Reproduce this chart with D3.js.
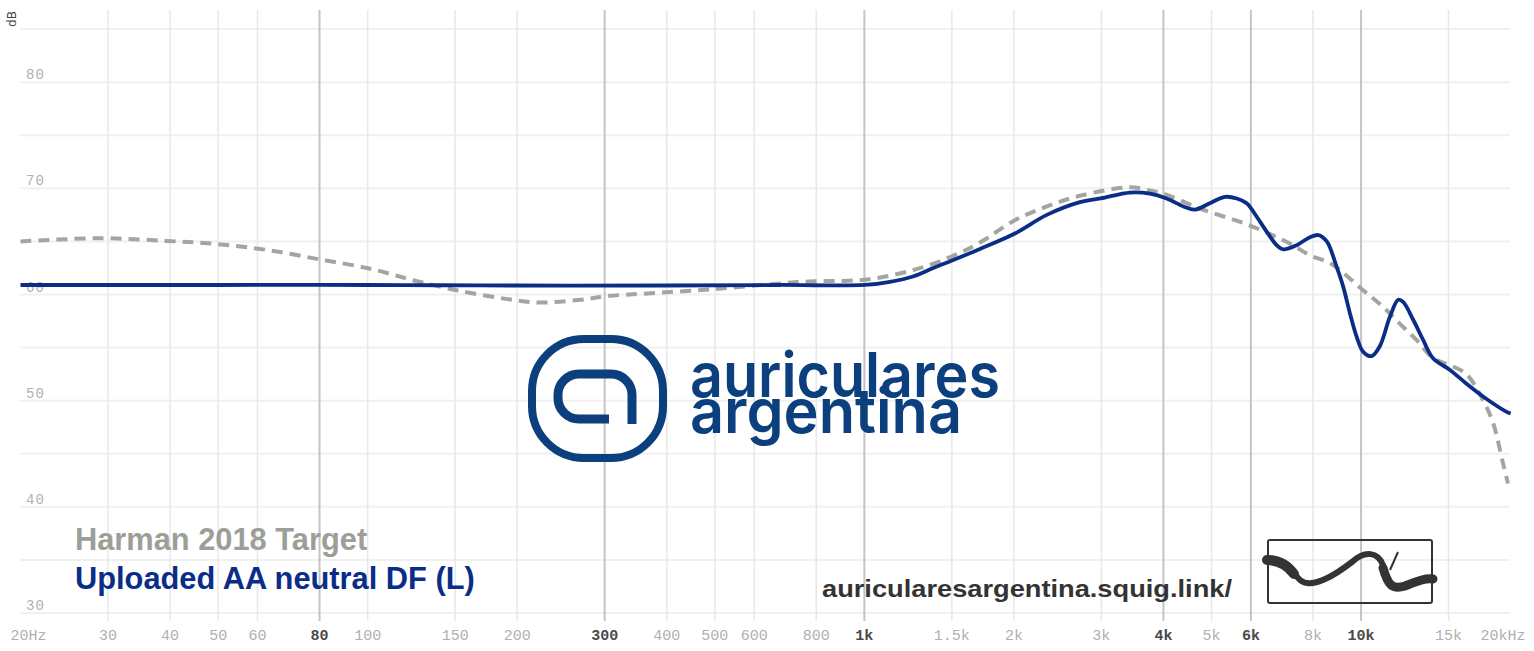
<!DOCTYPE html>
<html>
<head>
<meta charset="utf-8">
<script src="https://cdn.jsdelivr.net/npm/d3@7"></script>
<style>
  html, body { margin: 0; padding: 0; background: #fff; }
  svg { display: block; }
</style>
</head>
<body>
<svg id="chart" width="1534" height="651"></svg>
<script>
// ---- data ----
const freqTicks = [20,30,40,50,60,80,100,150,200,300,400,500,600,800,1000,1500,2000,3000,4000,5000,6000,8000,10000,15000,20000];
const freqTickLabels = ["20Hz","30","40","50","60","80","100","150","200","300","400","500","600","800","1k","1.5k","2k","3k","4k","5k","6k","8k","10k","15k","20kHz"];
const majorFreqs = [80,300,1000,4000,6000,10000];
const dbTicks = [30,40,50,60,70,80];
const dbGrid = [30,35,40,45,50,55,60,65,70,75,80,85];

const targetName = "Harman 2018 Target";
const targetFreq = [20,28.9,39.4,49.7,62.7,80.2,99.7,116,123.4,151,196,222,268,303,365,496,676,788,1002,1253,1501,1709,2009,2330,2716,3426,3758,4000,4738,5975,7190,7890,8700,10100,11070,11880,12940,13960,15100,16300,17600,18440,19310,19760];
const targetDb   = [65.0,65.3,65.05,64.75,64.2,63.3,62.5,61.7,61.35,60.4,59.5,59.25,59.5,59.85,60.1,60.5,61.05,61.25,61.4,62.3,63.6,64.9,67.0,68.3,69.3,70.1,69.8,69.5,68.1,66.5,64.8,63.7,62.9,60.4,58.85,57.4,55.7,54.0,53.35,52.5,50.05,47.9,44.1,42.2];

const measName = "Uploaded AA neutral DF (L)";
const measFreq = [20,50,100,200,400,676,1002,1126,1253,1376,1501,1709,2009,2330,2716,2990,3426,3758,4060,4390,4630,4960,5320,5620,5883,6170,6460,6760,6970,7420,7890,8200,8530,8930,9210,9500,9800,10100,10500,10900,11430,11880,12150,12740,13340,13960,15100,16300,17600,19640,20000];
const measDb   = [60.9,60.9,60.9,60.85,60.85,60.9,60.9,61.2,61.7,62.5,63.2,64.3,65.75,67.5,68.7,69.05,69.6,69.5,69.05,68.3,68.0,68.6,69.2,69.05,68.6,67.3,65.9,64.65,64.25,64.65,65.4,65.6,65.0,62.6,60.7,58.2,56.0,54.6,54.2,55.1,57.9,59.5,59.3,57.6,55.7,54.0,52.9,51.6,50.4,48.95,48.8];

const logoLines = ["auriculares", "argentina"];

// ---- scales ----
const svg = d3.select("#chart");
const x = d3.scaleLog().domain([20, 20000]).range([20.5, 1510.6]);
const y = d3.scaleLinear().domain([29.25, 86.8]).range([621, 10]);

// horizontal grid
svg.append("g").selectAll("line").data(dbGrid).join("line")
  .attr("x1", 20).attr("x2", 1510)
  .attr("y1", d => y(d)).attr("y2", d => y(d))
  .attr("stroke", "#f0f0f0").attr("stroke-width", 2);

// vertical grid
svg.append("g").selectAll("line").data(freqTicks.filter(f => f > 20 && f < 20000)).join("line")
  .attr("x1", d => x(d)).attr("x2", d => x(d))
  .attr("y1", 10).attr("y2", 621)
  .attr("stroke", d => majorFreqs.includes(d) ? "#c4c4c4" : "#e8e8e8")
  .attr("stroke-width", d => majorFreqs.includes(d) ? 2 : 1.5);

// y labels
svg.append("g").selectAll("text").data(dbTicks).join("text")
  .attr("x", 26).attr("y", d => y(d) - 3)
  .attr("font-family", "'Liberation Mono', 'DejaVu Sans Mono', monospace")
  .attr("font-size", 14).attr("letter-spacing", 1)
  .attr("fill", "#b0b0b0")
  .text(d => d);

// dB axis title
svg.append("text")
  .attr("transform", "translate(16,19) rotate(-90)")
  .attr("text-anchor", "middle")
  .attr("font-family", "'DejaVu Sans', sans-serif").attr("font-size", 12)
  .attr("fill", "#444").text("dB");

// x labels
svg.append("g").selectAll("text").data(freqTicks).join("text")
  .attr("x", (d, i) => i === 0 ? x(d) - 10 : (i === freqTicks.length - 1 ? x(d) + 15 : x(d)))
  .attr("y", 640)
  .attr("text-anchor", (d, i) => i === 0 ? "start" : (i === freqTicks.length - 1 ? "end" : "middle"))
  .attr("font-family", "'Liberation Mono', 'DejaVu Sans Mono', monospace")
  .attr("font-size", 15)
  .attr("font-weight", d => majorFreqs.includes(d) ? "bold" : "normal")
  .attr("fill", d => majorFreqs.includes(d) ? "#4a4a4a" : "#b0b0b0")
  .text((d, i) => freqTickLabels[i]);

// ---- logo (auriculares argentina) ----
const logoColor = "#0b3f7e";
const logo = svg.append("g");
logo.append("rect").attr("x", 532).attr("y", 339).attr("width", 131).attr("height", 119)
  .attr("rx", 52).attr("ry", 52)
  .attr("fill", "none").attr("stroke", logoColor).attr("stroke-width", 8);
logo.append("path")
  .attr("d", "M 609 419 L 579 419 A 21 21 0 0 1 558 398 L 558 395 A 21 21 0 0 1 579 374 L 611 374 A 21 21 0 0 1 632 395 L 632 424")
  .attr("fill", "none").attr("stroke", logoColor).attr("stroke-width", 9);
const logoText = logo.append("text")
  .attr("font-family", "Inter, 'Noto Sans', sans-serif").attr("font-weight", 600)
  .attr("font-size", 62).attr("fill", logoColor);
logoText.append("tspan").attr("x", 690).attr("y", 397)
  .attr("textLength", 310).attr("lengthAdjust", "spacingAndGlyphs").text(logoLines[0]);
logoText.append("tspan").attr("x", 690).attr("y", 433)
  .attr("textLength", 272).attr("lengthAdjust", "spacingAndGlyphs").text(logoLines[1]);

// ---- curves ----
const line = d3.line().x(d => x(d[0])).y(d => y(d[1])).curve(d3.curveCatmullRom.alpha(0.5));
svg.append("path")
  .datum(targetFreq.map((f, i) => [f, targetDb[i]]))
  .attr("d", line).attr("fill", "none")
  .attr("stroke", "#a3a69e").attr("stroke-width", 4)
  .attr("stroke-dasharray", "11 7");
svg.append("path")
  .datum(measFreq.map((f, i) => [f, measDb[i]]))
  .attr("d", line).attr("fill", "none")
  .attr("stroke", "#0a2d88").attr("stroke-width", 3.8)
  .attr("stroke-linejoin", "round");

// ---- legend ----
svg.append("text").attr("x", 75).attr("y", 550)
  .attr("font-family", "'Liberation Sans', Arial, sans-serif").attr("font-weight", "bold")
  .attr("font-size", 30.8).attr("fill", "#9c9f98").text(targetName);
svg.append("text").attr("x", 75).attr("y", 589)
  .attr("font-family", "'Liberation Sans', Arial, sans-serif").attr("font-weight", "bold")
  .attr("font-size", 30.8).attr("fill", "#0a2d88").text(measName);

// ---- watermark ----
svg.append("text").attr("x", 822).attr("y", 597)
  .attr("font-family", "'Liberation Sans', Arial, sans-serif").attr("font-weight", "bold")
  .attr("font-size", 24).attr("fill", "#333")
  .attr("textLength", 410).attr("lengthAdjust", "spacingAndGlyphs")
  .text("auricularesargentina.squig.link/");

const wm = svg.append("g");
wm.append("rect").attr("x", 1268).attr("y", 540).attr("width", 164).attr("height", 63)
  .attr("rx", 2).attr("fill", "none").attr("stroke", "#333").attr("stroke-width", 2);
wm.append("path")
  .attr("d", "M 1267 560 C 1285 560, 1292 572, 1300 580 C 1312 590, 1335 575, 1352 562 C 1365 550, 1378 552, 1383 565 C 1388 585, 1392 590, 1405 586 C 1418 581, 1425 578, 1433 579")
  .attr("fill", "none").attr("stroke", "#333").attr("stroke-width", 6).attr("stroke-linecap", "round");
wm.append("path")
  .attr("d", "M 1267 560 C 1280 560, 1288 566, 1294 574")
  .attr("fill", "none").attr("stroke", "#333").attr("stroke-width", 10).attr("stroke-linecap", "round");
wm.append("path")
  .attr("d", "M 1383 568 C 1388 585, 1392 590, 1405 586 C 1418 581, 1425 578, 1433 579")
  .attr("fill", "none").attr("stroke", "#333").attr("stroke-width", 9).attr("stroke-linecap", "round");
wm.append("path")
  .attr("d", "M 1390 570 L 1398 552")
  .attr("fill", "none").attr("stroke", "#333").attr("stroke-width", 2);
</script>
</body>
</html>
